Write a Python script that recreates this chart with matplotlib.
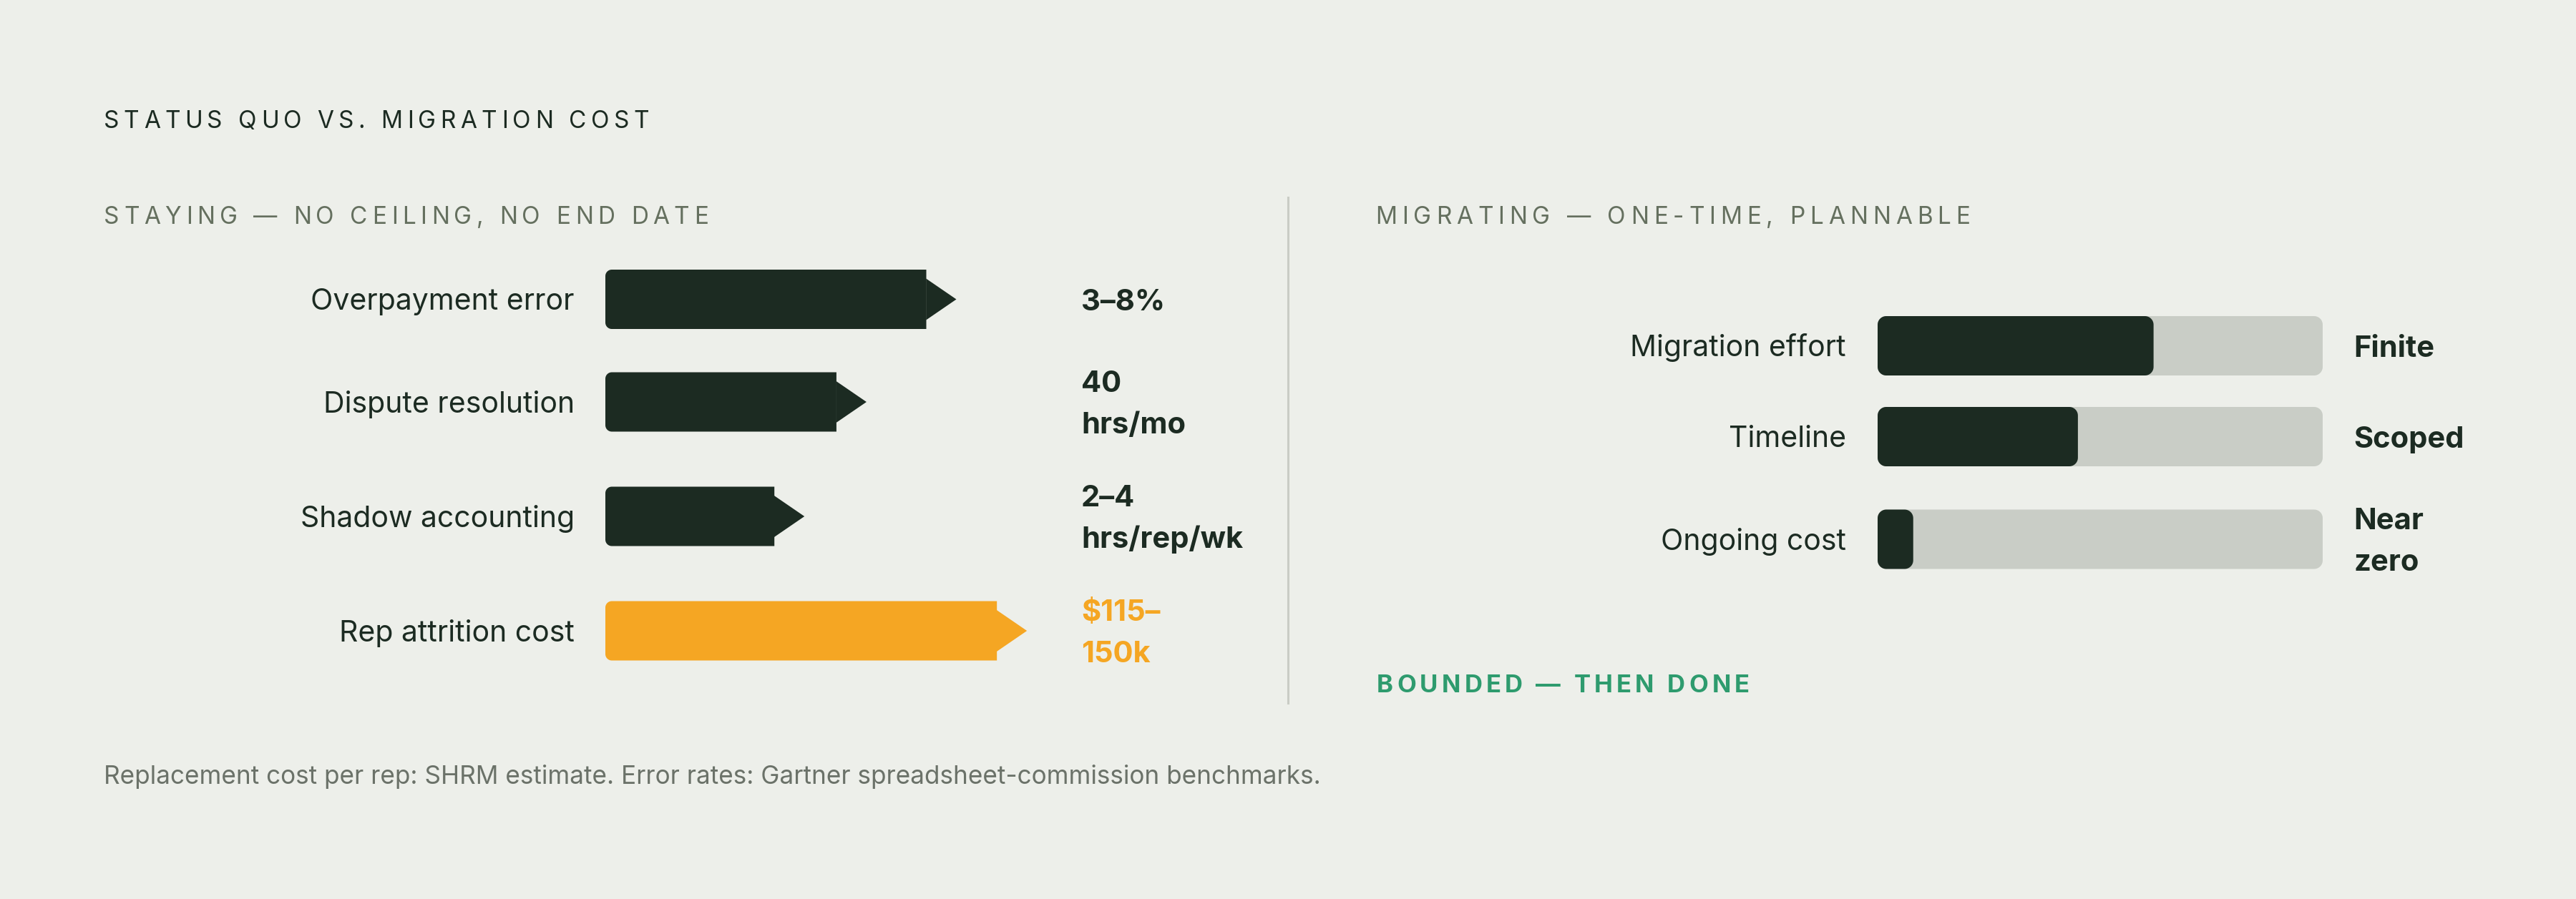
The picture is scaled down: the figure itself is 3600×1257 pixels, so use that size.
import matplotlib
matplotlib.use("Agg")
import matplotlib.pyplot as plt
from matplotlib.patches import Polygon
import numpy as np

plt.rcParams['font.family'] = ['Inter', 'DejaVu Sans']

# ---------------- data ----------------
title = "STATUS QUO VS. MIGRATION COST"
left_head = "STAYING \u2014 NO CEILING, NO END DATE"
right_head = "MIGRATING \u2014 ONE-TIME, PLANNABLE"
right_foot = "BOUNDED \u2014 THEN DONE"
footnote = ("Replacement cost per rep: SHRM estimate. Error rates: "
            "Gartner spreadsheet-commission benchmarks.")

stay_labels = ["Overpayment error", "Dispute resolution", "Shadow accounting", "Rep attrition cost"]
stay_values = [75, 54, 39.5, 91.5]           # relative burden (bar length, % of track)
stay_text = ["3\u20138%", "40\nhrs/mo", "2\u20134\nhrs/rep/wk", "$115\u2013\n150k"]
stay_highlight = [False, False, False, True]

mig_labels = ["Migration effort", "Timeline", "Ongoing cost"]
mig_values = [62, 45, 8]                     # % of track filled
mig_text = ["Finite", "Scoped", "Near\nzero"]

# ---------------- style ----------------
BG = "#edefea"
DARK = "#1c2b22"
ORANGE = "#f5a623"
TRACK = "#c9cdc6"
GREY = "#65705f"
FOOT = "#6b7269"
GREEN = "#2e9b6e"
DIVIDER = "#c9ccc5"

W, H = 3600, 1257
fig = plt.figure(figsize=(W / 100, H / 100), dpi=100, facecolor=BG)
renderer = fig.canvas.get_renderer()

PT = 100 / 72.0
CAP = 0.727


def fx(x):
    return x / W


def fy(y):
    return 1 - y / H


def text_width(s, **kw):
    t = fig.text(0, 0, s, **kw)
    w = t.get_window_extent(renderer).width
    t.remove()
    return w


def tracked(x, y, s, target_w, **kw):
    n = len(s)
    total = text_width(s, **kw)
    track = (target_w - total) / (n - 1)
    for i, ch in enumerate(s):
        if ch == " ":
            continue
        pos = text_width(s[:i + 1], **kw) - text_width(ch, **kw)
        fig.text(fx(x + pos + i * track), fy(y), ch, ha="left", va="baseline", **kw)


def rounded_poly(x0, x1, yc, h, r_left, r_right, sx):
    """Polygon (data units: x in value units, y in pixel rows) with rounded corners."""
    pts = []
    y0, y1 = yc - h / 2, yc + h / 2
    th = np.linspace(0, np.pi / 2, 12)
    if r_left > 0:
        rx, ry = r_left / sx, r_left
        cx, cy = x0 + rx, y0 + ry
        for a in th:
            pts.append((cx - rx * np.cos(a), cy - ry * np.sin(a)))
    else:
        pts.append((x0, y0))
    if r_right > 0:
        rx, ry = r_right / sx, r_right
        cx, cy = x1 - rx, y0 + ry
        for a in th[::-1]:
            pts.append((cx + rx * np.cos(a), cy - ry * np.sin(a)))
        cy = y1 - ry
        for a in th:
            pts.append((cx + rx * np.cos(a), cy + ry * np.sin(a)))
    else:
        pts.append((x1, y0))
        pts.append((x1, y1))
    if r_left > 0:
        rx, ry = r_left / sx, r_left
        cx, cy = x0 + rx, y1 - ry
        for a in th[::-1]:
            pts.append((cx - rx * np.cos(a), cy + ry * np.sin(a)))
    else:
        pts.append((x0, y1))
    return pts


def row_centers(texts, top, bar_h, line_h, gap):
    centers = []
    y = top
    for t in texts:
        h = max(bar_h, (t.count("\n") + 1) * line_h)
        centers.append(y + h / 2)
        y += h + gap
    return centers


def multiline(x, yc, s, size, color, weight, line_h):
    lines = s.split("\n")
    n = len(lines)
    cap = size * PT * CAP
    for i, ln in enumerate(lines):
        yb = yc + cap / 2 + (i - (n - 1) / 2) * line_h
        fig.text(fx(x), fy(yb), ln, ha="left", va="baseline", fontsize=size,
                 color=color, fontweight=weight)


BAR_H = 83
LINE_H = 58
GAP = 44
LABEL_SIZE = 29.5
VALUE_SIZE = 30

# ---------------- headings ----------------
tracked(145, 179, title, 762, fontsize=24, color=DARK)
tracked(145, 313, left_head, 845, fontsize=24, color=GREY)
tracked(1922, 313, right_head, 831, fontsize=24, color=GREY)
tracked(1924, 968, right_foot, 521, fontsize=25, color=GREEN, fontweight="bold")
fig.text(fx(145), fy(1096), footnote, ha="left", va="baseline", fontsize=25.3, color=FOOT)

# divider
fig.add_artist(plt.Line2D([fx(1800), fx(1800)], [fy(276), fy(983)], color=DIVIDER, lw=2.2))

# ---------------- left panel: staying ----------------
L_X0, L_X1 = 846, 1500
L_SX = 5.98  # px per value unit
axL = fig.add_axes([fx(L_X0), 0, (L_X1 - L_X0) / W, 1])
axL.set_xlim(0, (L_X1 - L_X0) / L_SX)
axL.set_ylim(H, 0)
axL.axis("off")

cL = row_centers(stay_text, 377, BAR_H, LINE_H, GAP)
for lab, v, txt, hl, c in zip(stay_labels, stay_values, stay_text, stay_highlight, cL):
    col = ORANGE if hl else DARK
    axL.add_patch(Polygon(rounded_poly(0, v, c, BAR_H, 9, 0, L_SX), closed=True,
                          facecolor=col, edgecolor="none"))
    tip = 42 / L_SX
    axL.add_patch(Polygon([(v - 0.05, c - 29), (v + tip, c), (v - 0.05, c + 29)], closed=True,
                          facecolor=col, edgecolor="none"))
    cap = LABEL_SIZE * PT * CAP
    fig.text(fx(803), fy(c + cap / 2), lab, ha="right", va="baseline",
             fontsize=LABEL_SIZE, color=DARK)
    multiline(1511, c, txt, VALUE_SIZE, ORANGE if hl else DARK, "bold", LINE_H)

# ---------------- right panel: migrating ----------------
R_X0, R_X1 = 2624, 3246
R_SX = (R_X1 - R_X0) / 100.0
axR = fig.add_axes([fx(R_X0), 0, (R_X1 - R_X0) / W, 1])
axR.set_xlim(0, 100)
axR.set_ylim(H, 0)
axR.axis("off")

cR = row_centers(mig_text, 442, BAR_H, LINE_H, GAP)
for lab, v, txt, c in zip(mig_labels, mig_values, mig_text, cR):
    axR.add_patch(Polygon(rounded_poly(0, 100, c, BAR_H, 12, 12, R_SX), closed=True,
                          facecolor=TRACK, edgecolor="none"))
    axR.add_patch(Polygon(rounded_poly(0, v, c, BAR_H, 12, 12, R_SX), closed=True,
                          facecolor=DARK, edgecolor="none"))
    cap = LABEL_SIZE * PT * CAP
    fig.text(fx(2580), fy(c + cap / 2), lab, ha="right", va="baseline",
             fontsize=LABEL_SIZE, color=DARK)
    multiline(3289, c, txt, VALUE_SIZE, DARK, "bold", LINE_H)

fig.savefig("out.png", dpi=100, facecolor=BG)
